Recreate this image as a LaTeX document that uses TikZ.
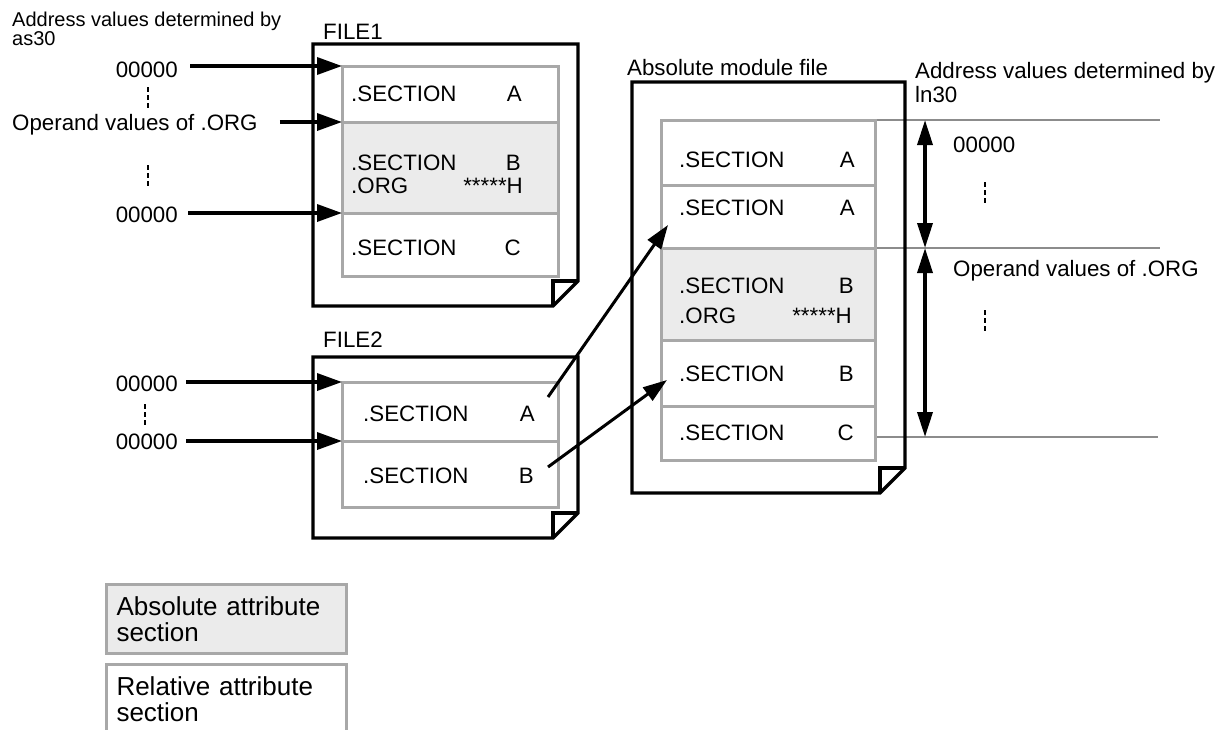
\documentclass[tikz,border=0pt]{standalone}
\usepackage{fontspec}
\setmainfont{Liberation Sans}
\usetikzlibrary{arrows.meta}

\definecolor{secgray}{HTML}{EBEBEB}
\definecolor{secedge}{HTML}{A8A8A8}
\definecolor{guidegray}{HTML}{8C8C8C}

\tikzset{
    filepen/.style={line width=3.3pt, line join=miter},
    secrow/.style={draw=secedge, line width=3pt, anchor=north west, inner sep=0pt, outer sep=0pt},
    txt/.style={anchor=base west, inner sep=0pt, font=\fontsize{22.3}{24}\selectfont},
    rtxt/.style={txt, anchor=base east},
    feed/.style={line width=3.5pt, -{Triangle[length=25pt,width=17pt]}},
    carry/.style={line width=3pt, -{Triangle[length=24pt,width=16pt]}},
    addrspan/.style={line width=3.5pt, {Triangle[length=25pt,width=15pt]}-{Triangle[length=25pt,width=15pt]}},
    guide/.style={draw=guidegray, line width=1.2pt},
    vdots/.style={line width=1.6pt, dash pattern=on 5pt off 3pt},
    legbox/.style={draw=secedge, line width=3pt, anchor=north west, inner xsep=10pt, inner ysep=0pt,
        text width=220pt, align=left, minimum height=69pt, font=\fontsize{26}{26}\selectfont}
}

% outline of a file with a folded corner
\newcommand{\docpage}[4]{%
    \draw[filepen] (#1,#2) -- (#3,#2) -- (#3,{#4-25}) -- ({#3-25},#4) -- (#1,#4) -- cycle;
    \draw[filepen] ({#3-25},#4) -- ({#3-25},{#4-25}) -- (#3,{#4-25});}

\begin{document}
\begin{tikzpicture}[x=1pt, y=-1pt]
    \useasboundingbox (0,0) rectangle (1230,729);

    % FILE1
    \node[txt] (file1) at (323,39) {FILE1};
    \docpage{313}{44}{578}{306}
    \node[secrow, minimum width=216, minimum height=56] (f1a) at (342,66) {};
    \node[secrow, fill=secgray, minimum width=216, minimum height=91] (f1b) at (342,122) {};
    \node[secrow, minimum width=216, minimum height=63] (f1c) at (342,213) {};
    \node[txt] (f1as) at (351,101) {.SECTION};
    \node[rtxt] (f1an) at (522,101) {A};
    \node[txt] (f1bs) at (351,170) {.SECTION};
    \node[rtxt] (f1bn) at (521,170) {B};
    \node[txt] (f1bo) at (351,193) {.ORG};
    \node[rtxt] (f1bh) at (523,193) {*****H};
    \node[txt] (f1cs) at (351,255) {.SECTION};
    \node[rtxt] (f1cn) at (521,255) {C};

    \node[anchor=north west, align=left, inner sep=0pt, font=\fontsize{20}{18.5}\selectfont] (as30) at (12,12)
        {Address values determined by\\as30};
    \node[rtxt] (f1top) at (178,77) {00000};
    \node[txt] (f1org) at (12,130) {Operand values of .ORG};
    \node[rtxt] (f1bot) at (178,222) {00000};
    \draw[feed, shorten <=12pt] (f1top.east |- f1a.north west) -- (f1a.north west);
    \draw[feed, shorten <=22pt] (f1org.east |- f1b.north west) -- (f1b.north west);
    \draw[feed, shorten <=10pt] (f1bot.east |- f1c.north west) -- (f1c.north west);
    \draw[vdots] (148,87) -- (148,108);
    \draw[vdots] (148,165) -- (148,187);

    % FILE2
    \node[txt] (file2) at (323,347) {FILE2};
    \docpage{313}{357}{578}{538}
    \node[secrow, minimum width=216, minimum height=59] (f2a) at (342,382) {};
    \node[secrow, minimum width=216, minimum height=66] (f2b) at (342,441) {};
    \node[txt] (f2as) at (363,421) {.SECTION};
    \node[rtxt] (f2an) at (535,421) {A};
    \node[txt] (f2bs) at (363,483) {.SECTION};
    \node[rtxt] (f2bn) at (534,483) {B};

    \node[rtxt] (f2top) at (178,391) {00000};
    \node[rtxt] (f2bot) at (178,449) {00000};
    \draw[feed, shorten <=8pt] (f2top.east |- f2a.north west) -- (f2a.north west);
    \draw[feed, shorten <=8pt] (f2bot.east |- f2b.north west) -- (f2b.north west);
    \draw[vdots] (145,404) -- (145,427);

    % Absolute module file
    \coordinate (gtop) at (1160,120);
    \coordinate (gmid) at (1160,248);
    \coordinate (gbot) at (1158,437);
    \coordinate (dimx) at (925,0);
    \node[txt] (absfile) at (627,75) {Absolute module file};
    \draw[guide] (875,120) -- (gtop);
    \draw[guide] (875,248) -- (gmid);
    \draw[guide] (875,437) -- (gbot);
    \docpage{632}{82}{905}{493}
    \node[secrow, minimum width=214, minimum height=65] (absa) at (661,120) {};
    \node[secrow, minimum width=214, minimum height=63] (absb) at (661,185) {};
    \node[secrow, fill=secgray, minimum width=214, minimum height=92] (absc) at (661,248) {};
    \node[secrow, minimum width=214, minimum height=66] (absd) at (661,340) {};
    \node[secrow, minimum width=214, minimum height=54] (abse) at (661,406) {};
    \node[txt] (absas) at (679,167) {.SECTION};
    \node[rtxt] (absan) at (855,167) {A};
    \node[txt] (absbs) at (679,215) {.SECTION};
    \node[rtxt] (absbn) at (855,215) {A};
    \node[txt] (abscs) at (679,293) {.SECTION};
    \node[rtxt] (abscn) at (854,293) {B};
    \node[txt] (absco) at (679,323) {.ORG};
    \node[rtxt] (abscz) at (852,323) {*****H};
    \node[txt] (absds) at (679,381) {.SECTION};
    \node[rtxt] (absdn) at (854,381) {B};
    \node[txt] (abses) at (679,440) {.SECTION};
    \node[rtxt] (absen) at (854,440) {C};

    % from FILE2 into the absolute file
    \coordinate (srca) at (548,397);
    \coordinate (dsta) at (668,225);
    \coordinate (srcb) at (548,467);
    \coordinate (dstb) at (667,380);
    \draw[carry] (srca) -- (dsta);
    \draw[carry] (srcb) -- (dstb);

    % addresses decided by ln30
    \node[anchor=north west, align=left, inner sep=0pt, font=\fontsize{22.3}{24}\selectfont] (ln30) at (915,62)
        {Address values determined by\\ln30};
    \draw[addrspan] (dimx |- gtop) -- (dimx |- gmid);
    \draw[addrspan] (dimx |- gmid) -- (dimx |- gbot);
    \node[txt] (lntop) at (953,152) {00000};
    \node[txt] (lnorg) at (953,276) {Operand values of .ORG};
    \draw[vdots] (985,182) -- (985,203);
    \draw[vdots] (985,310) -- (985,332);

    % legend
    \node[legbox, fill=secgray] (legabs) at (105,583) {Absolute attribute\\section};
    \node[legbox] (legrel) at (105,663) {Relative attribute\\section};
\end{tikzpicture}
\end{document}
